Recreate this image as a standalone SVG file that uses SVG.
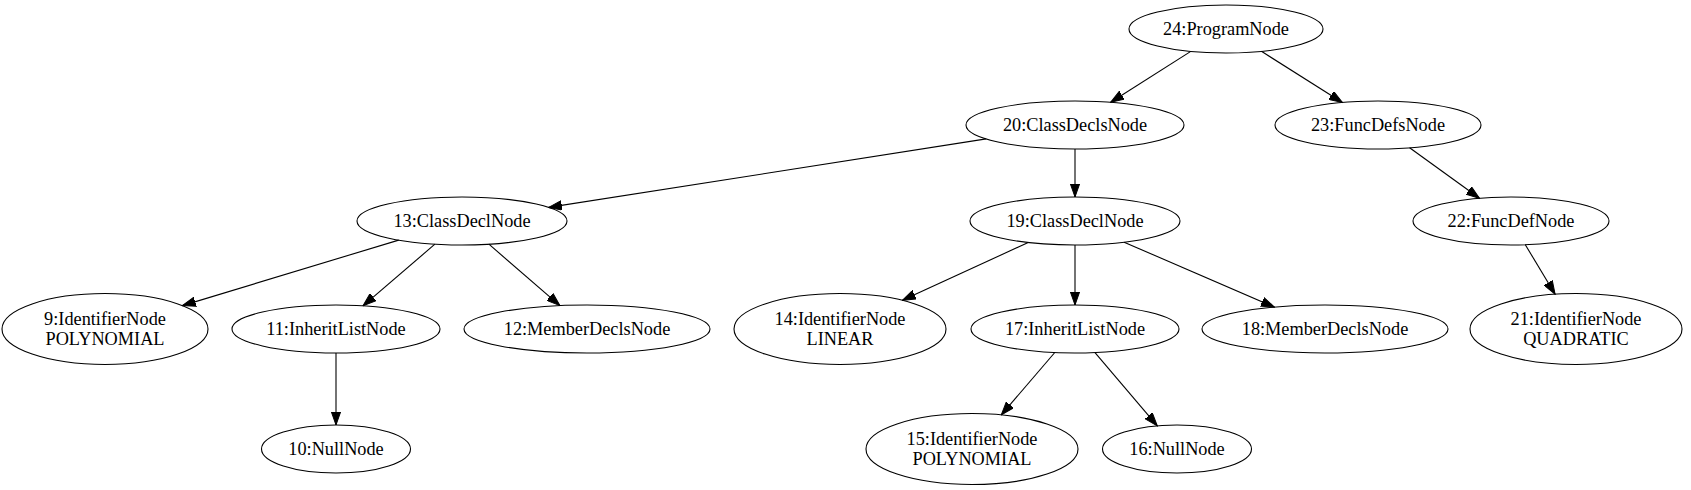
<svg xmlns="http://www.w3.org/2000/svg" width="1691" height="490" viewBox="0 0 1691 490">
<style>
.n ellipse{fill:none;stroke:#000;stroke-width:1.1}
.n text{font-family:"Liberation Serif","Times New Roman",serif;font-size:18.3px;fill:#000;text-anchor:middle}
.e line{stroke:#000;stroke-width:1.1;marker-end:url(#ah)}
</style>
<defs>
<marker id="ah" markerUnits="userSpaceOnUse" markerWidth="14" markerHeight="10" refX="13.3" refY="5" orient="auto">
<path d="M0,0.3 L13.3,5 L0,9.7 z" fill="#000" stroke="#000" stroke-width="1"/>
</marker>
</defs>
<rect x="0" y="0" width="1691" height="490" fill="#fff"/>
<g id="edges" class="e">
<line x1="1190.8" y1="51.4" x2="1110.7" y2="102.3"/>
<line x1="1261.4" y1="51.3" x2="1342.4" y2="102.5"/>
<line x1="986.2" y1="138.9" x2="548.6" y2="207.4"/>
<line x1="1075" y1="149" x2="1075" y2="197"/>
<line x1="1409.6" y1="147.8" x2="1479.5" y2="198.3"/>
<line x1="398.7" y1="240.1" x2="182.4" y2="305.6"/>
<line x1="434.9" y1="244.2" x2="363" y2="305.8"/>
<line x1="488.9" y1="244.2" x2="559.9" y2="305.6"/>
<line x1="1028.2" y1="242.5" x2="902.4" y2="300.3"/>
<line x1="1075" y1="245" x2="1075" y2="305"/>
<line x1="1124.1" y1="242.2" x2="1274.4" y2="307.1"/>
<line x1="1525.3" y1="244.7" x2="1555.1" y2="294.2"/>
<line x1="336" y1="353" x2="336" y2="425"/>
<line x1="1054.8" y1="352.5" x2="1001.3" y2="414.9"/>
<line x1="1095" y1="352.6" x2="1157.3" y2="425.9"/>
</g>
<g id="n24" class="n"><ellipse cx="1226" cy="29" rx="97" ry="24"/><text x="1226" y="34.6">24:ProgramNode</text></g>
<g id="n20" class="n"><ellipse cx="1075" cy="125" rx="109" ry="24"/><text x="1075" y="130.6">20:ClassDeclsNode</text></g>
<g id="n23" class="n"><ellipse cx="1378" cy="125" rx="103" ry="24"/><text x="1378" y="130.6">23:FuncDefsNode</text></g>
<g id="n13" class="n"><ellipse cx="462" cy="221" rx="105" ry="24"/><text x="462" y="226.6">13:ClassDeclNode</text></g>
<g id="n19" class="n"><ellipse cx="1075" cy="221" rx="105" ry="24"/><text x="1075" y="226.6">19:ClassDeclNode</text></g>
<g id="n22" class="n"><ellipse cx="1511" cy="221" rx="98" ry="24"/><text x="1511" y="226.6">22:FuncDefNode</text></g>
<g id="n9" class="n"><ellipse cx="105" cy="329" rx="103" ry="35.5"/><text x="105" y="325">9:IdentifierNode</text><text x="105" y="345">POLYNOMIAL</text></g>
<g id="n11" class="n"><ellipse cx="336" cy="329" rx="104" ry="24"/><text x="336" y="334.6">11:InheritListNode</text></g>
<g id="n12" class="n"><ellipse cx="587" cy="329" rx="123" ry="24"/><text x="587" y="334.6">12:MemberDeclsNode</text></g>
<g id="n14" class="n"><ellipse cx="840" cy="329" rx="106" ry="35.5"/><text x="840" y="325">14:IdentifierNode</text><text x="840" y="345">LINEAR</text></g>
<g id="n17" class="n"><ellipse cx="1075" cy="329" rx="104" ry="24"/><text x="1075" y="334.6">17:InheritListNode</text></g>
<g id="n18" class="n"><ellipse cx="1325" cy="329" rx="123" ry="24"/><text x="1325" y="334.6">18:MemberDeclsNode</text></g>
<g id="n21" class="n"><ellipse cx="1576" cy="329" rx="106" ry="35.5"/><text x="1576" y="325">21:IdentifierNode</text><text x="1576" y="345">QUADRATIC</text></g>
<g id="n10" class="n"><ellipse cx="336" cy="449" rx="74.5" ry="24"/><text x="336" y="454.6">10:NullNode</text></g>
<g id="n15" class="n"><ellipse cx="972" cy="449" rx="106" ry="35.5"/><text x="972" y="445">15:IdentifierNode</text><text x="972" y="465">POLYNOMIAL</text></g>
<g id="n16" class="n"><ellipse cx="1177" cy="449" rx="74.5" ry="24"/><text x="1177" y="454.6">16:NullNode</text></g>
</svg>
